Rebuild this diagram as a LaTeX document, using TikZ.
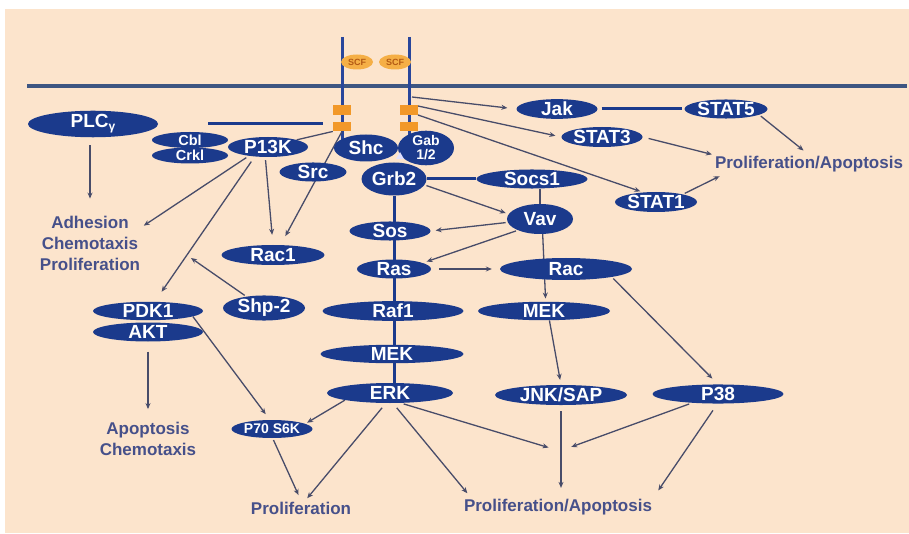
\documentclass[tikz,border=0pt]{standalone}
\usepackage{fontspec}
\setmainfont{Liberation Sans}
\usetikzlibrary{shapes.geometric,arrows.meta,calc}
\definecolor{peach}{RGB}{252,228,204}
\definecolor{nblue}{RGB}{27,58,140}
\definecolor{memb}{RGB}{62,86,130}
\definecolor{edgec}{RGB}{72,76,105}
\definecolor{lblc}{RGB}{70,80,138}
\definecolor{recc}{RGB}{40,70,155}
\definecolor{orng}{RGB}{242,152,40}
\definecolor{scfc}{RGB}{245,175,70}
\definecolor{scft}{RGB}{180,90,20}
\pgfdeclarelayer{bg}
\pgfsetlayers{bg,main}
\tikzset{
 nd/.style={ellipse, fill=nblue, text=white, inner sep=0pt, font=\fontsize{19}{19}\selectfont\bfseries},
 lbl/.style={text=lblc, font=\fontsize{17}{21}\selectfont\bfseries, align=center, inner sep=1pt},
 arr/.style={draw=edgec, line width=1.3pt, -{Stealth[length=6pt,width=5pt]}},
 ln/.style={draw=edgec, line width=1.3pt},
 thk/.style={draw=nblue, line width=3pt},
 obox/.style={rectangle, fill=orng, minimum width=18pt, minimum height=9.5pt, inner sep=0pt},
 scf/.style={ellipse, fill=scfc, text=scft, inner sep=0pt, minimum width=32pt, minimum height=15pt, font=\fontsize{9}{9}\selectfont\bfseries},
}
\begin{document}
\begin{tikzpicture}[x=1pt,y=-1pt]
\useasboundingbox (0,0) rectangle (909,534);

% labels
\node[lbl] (ladh) at (90,243) {Adhesion\\Chemotaxis\\Proliferation};
\node[lbl] (lapo) at (148,439) {Apoptosis\\Chemotaxis};
\node[lbl] (lprol) at (301,508) {Proliferation};
\node[lbl] (lpa) at (558,507) {Proliferation/Apoptosis};
\node[lbl] (lpar) at (809,164) {Proliferation/Apoptosis};

% receptor boxes and SCF
\node[obox] (lb1) at (342,110) {};
\node[obox] (lb2) at (342,126.5) {};
\node[obox] (rb1) at (409,110) {};
\node[obox] (rb2) at (409,126.5) {};
\node[scf] (scf1) at (357,62) {SCF};
\node[scf] (scf2) at (395,62) {SCF};

% nodes
\node[nd, minimum width=130pt, minimum height=19pt] (plc) at (93,124) {PLC\raisebox{-3pt}{\fontsize{12}{12}\selectfont γ}};
\node[nd, minimum width=76pt, minimum height=16pt, font=\fontsize{14.5}{14.5}\selectfont\bfseries] (cbl) at (190,140) {Cbl};
\node[nd, minimum width=76pt, minimum height=16pt, font=\fontsize{14.5}{14.5}\selectfont\bfseries] (crkl) at (190,155.5) {Crkl};
\node[nd, minimum width=80pt, minimum height=20pt] (p13k) at (268,147) {P13K};
\node[nd, minimum width=56pt, minimum height=31pt, align=center, font=\fontsize{14}{14}\selectfont\bfseries] (gab) at (426,148) {Gab\\1/2};
\node[nd, minimum width=64pt, minimum height=27pt] (shc) at (366,148) {Shc};
\node[nd, minimum width=67pt, minimum height=19pt] (src) at (313,172) {Src};
\node[nd, minimum width=65pt, minimum height=33pt] (grb2) at (394,179) {Grb2};
\node[nd, minimum width=111pt, minimum height=19pt] (socs) at (532,179) {Socs1};
\node[nd, minimum width=66pt, minimum height=30pt] (vav) at (540,219) {Vav};
\node[nd, minimum width=81pt, minimum height=19pt] (sos) at (390,231) {Sos};
\node[nd, minimum width=74pt, minimum height=19pt] (ras) at (394,269) {Ras};
\node[nd, minimum width=132pt, minimum height=22pt] (rac) at (566,269) {Rac};
\node[nd, minimum width=141pt, minimum height=18pt] (raf) at (393,311) {Raf1};
\node[nd, minimum width=132pt, minimum height=18pt] (mekr) at (544,311) {MEK};
\node[nd, minimum width=143pt, minimum height=18pt] (mekl) at (392,354) {MEK};
\node[nd, minimum width=126pt, minimum height=20pt] (erk) at (390,393) {ERK};
\node[nd, minimum width=132pt, minimum height=20pt] (jnk) at (561,395) {JNK/SAP};
\node[nd, minimum width=131pt, minimum height=18pt] (p38) at (718,394) {P38};
\node[nd, minimum width=103pt, minimum height=20pt] (rac1) at (273,255) {Rac1};
\node[nd, minimum width=110pt, minimum height=18pt] (pdk) at (148,311) {PDK1};
\node[nd, minimum width=110pt, minimum height=19pt] (akt) at (148,332) {AKT};
\node[nd, minimum width=82pt, minimum height=19pt] (shp) at (264,308) {Shp-2};
\node[nd, minimum width=81pt, minimum height=18pt, font=\fontsize{14}{14}\selectfont\bfseries] (p70) at (272,429) {P70 S6K};
\node[nd, minimum width=81pt, minimum height=18pt] (jak) at (557,109) {Jak};
\node[nd, minimum width=83pt, minimum height=18pt] (stat5) at (726,109) {STAT5};
\node[nd, minimum width=81pt, minimum height=20pt] (stat3) at (602,137) {STAT3};
\node[nd, minimum width=82pt, minimum height=20pt] (stat1) at (656,202) {STAT1};

\fill[white!88!blue] (396,159) -- (404,159) -- (400,152) -- cycle;

\begin{pgfonlayer}{bg}
\fill[white] (0,0) rectangle (909,534);
\fill[peach] (5,9) rectangle (909,533);
\draw[memb, line width=4pt] (27,86) -- (907,86);
\draw[recc, line width=3pt] (342,37) -- (342,140);
\draw[recc, line width=3pt] (409,37) -- (409,140);

% thick links
\draw[thk] (grb2.south) -- (grb2.south |- erk.north);
\coordinate (cblL) at (208,124);
\coordinate (cblR) at (323,124);
\draw[thk] (cblL) -- (cblR);
\draw[thk] (grb2.east) -- (socs.west);
\draw[thk, shorten <=4pt, shorten >=2pt] (jak.east) -- (stat5.west);

% left side
\draw[ln] (lb2.south west) -- (p13k.14);
\draw[arr, shorten >=10pt] (lb2.south) -- (rac1.53);
\draw[arr, shorten <=3pt, shorten >=10pt] (p13k.-105) -- (rac1.north);
\draw[arr, shorten <=3pt, shorten >=3pt] (p13k.205) -- (ladh.17);
\draw[arr, shorten <=6pt, shorten >=12pt] (p13k.216) -- (pdk.54);
\coordinate (shpend) at (191,258);
\draw[arr, shorten <=2pt] (shp.147) -- (shpend);
\draw[arr, shorten <=8pt, shorten >=16pt] (plc.south -| ladh.north) -- (ladh.north);
\draw[arr, shorten <=10pt, shorten >=12pt] (akt.south) -- (akt.south |- lapo.north);
\draw[arr, shorten >=7pt] (pdk.-7) -- (p70.103);
\draw[arr, shorten >=2pt] (erk.189) -- (p70.9);
\draw[arr, shorten <=2pt, shorten >=6pt] (p70.-86) -- (lprol.north);
\draw[arr, shorten <=6pt, shorten >=3pt] (erk.-112) -- (lprol.60);

% bottom right
\draw[arr, shorten <=6pt, shorten >=6pt] (erk.-74) -- (lpa.174);
\coordinate (mj) at (560,451);
\draw[arr, shorten <=3pt, shorten >=12pt] (erk.-43) -- (mj);
\draw[arr, shorten <=3pt, shorten >=12pt] (p38.199) -- (mj);
\draw[arr, shorten <=6pt, shorten >=10pt] (jnk.south) -- (jnk.south |- lpa.north);
\draw[arr, shorten <=8pt, shorten >=9pt] (p38.-93) -- (lpa.north east);
\draw[arr, shorten <=2pt, shorten >=8pt] (rac.-10) -- (p38.north);
\draw[arr, shorten >=5pt] (mekr.-60) -- (jnk.north);
\draw[arr, shorten >=3pt] (vav.-80) -- (mekr.80);
\draw[ln] (vav.north |- socs.south) -- (vav.north);
\draw[arr, shorten <=2pt, shorten >=3pt] (grb2.-11) -- (vav.171);
\draw[arr, shorten <=2pt, shorten >=5pt] (vav.186) -- (sos.east);
\draw[arr, shorten <=2pt, shorten >=4pt] (vav.207) -- (ras.12);
\draw[arr, shorten <=8pt, shorten >=8pt] (ras.east) -- (rac.west);

% receptor to JAK/STAT
\coordinate (rj1) at (412,97);
\coordinate (rj2) at (418,106);
\coordinate (rj3) at (418,115);
\draw[arr, shorten >=9pt] (rj1) -- (jak.west);
\draw[arr, shorten >=6pt] (rj2) -- (stat3.west);
\draw[arr, shorten >=3pt] (rj3) -- (stat1.143);
\draw[arr, shorten <=2pt, shorten >=7pt] (stat5.-10) -- (lpar.north);
\draw[arr, shorten <=6pt, shorten >=2pt] (stat3.east) -- (lpar.north west);
\draw[arr, shorten <=2pt, shorten >=7pt] (stat1.16) -- ($(lpar.south west)+(12,0)$);
\end{pgfonlayer}
\end{tikzpicture}
\end{document}
